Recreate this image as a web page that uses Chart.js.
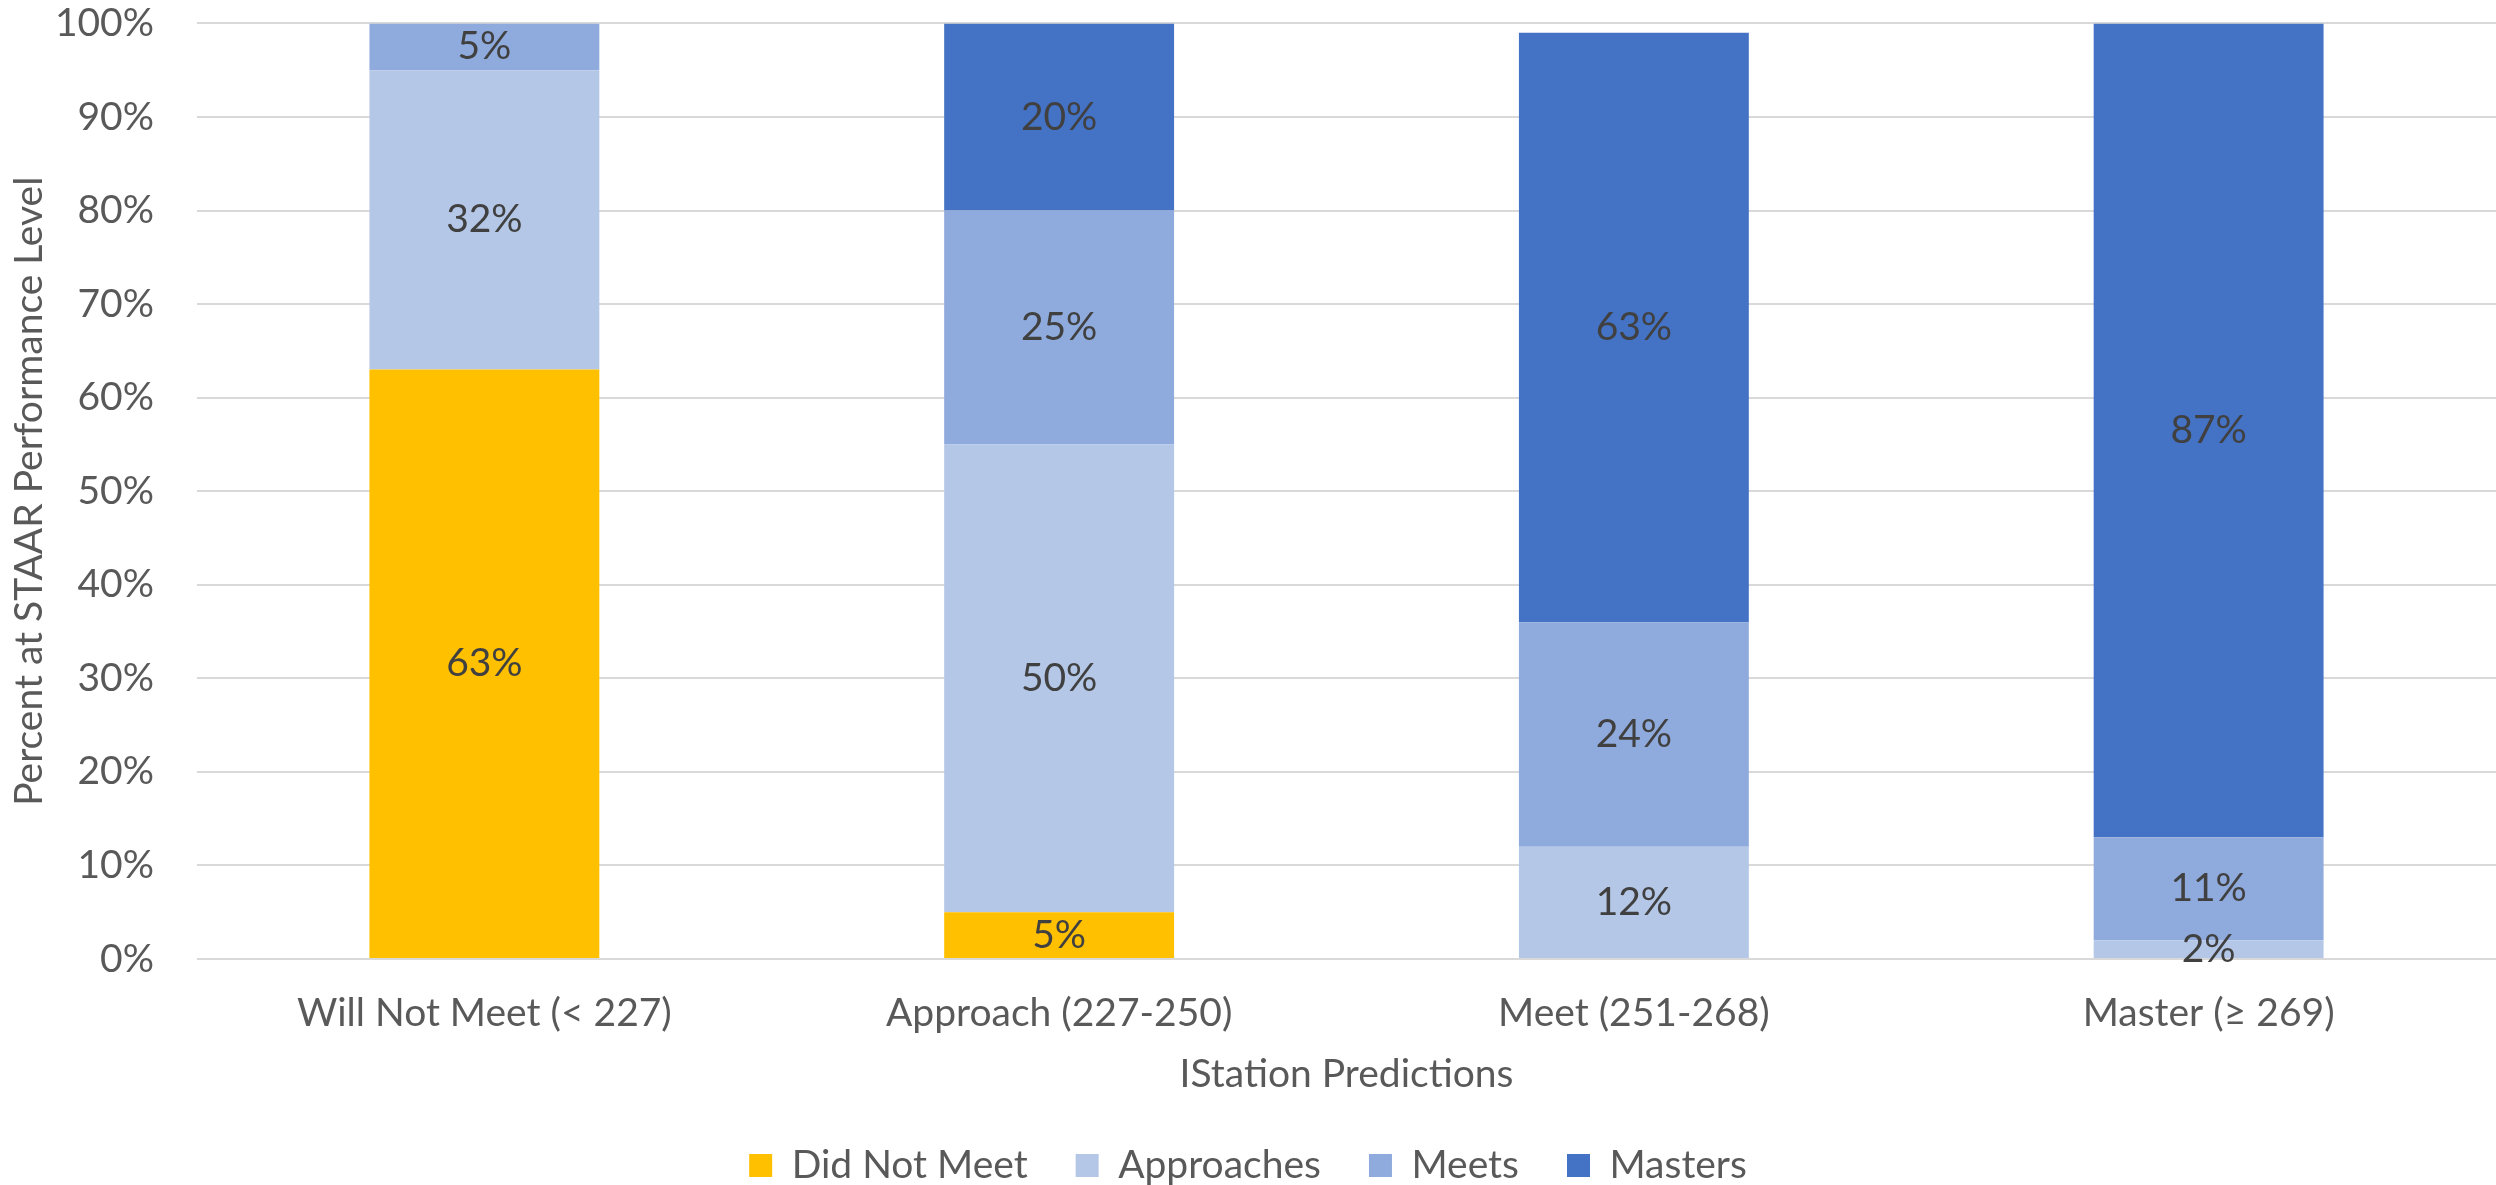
<!DOCTYPE html>
<html>
<head>
<meta charset="utf-8">
<script src="https://cdn.jsdelivr.net/npm/chart.js@4.4.0/dist/chart.umd.min.js"></script>
<style>
  html, body { margin: 0; padding: 0; background: #fff; }
  #wrap { width: 2496px; height: 1185px; }
</style>
</head>
<body>
<div id="wrap"><canvas id="staarChart" width="2496" height="1185"></canvas></div>
<script>
// iStation prediction band vs. actual STAAR result (percent of students)
const categories = ['Will Not Meet (< 227)', 'Approach (227-250)', 'Meet (251-268)', 'Master (\u2265 269)'];
const didNotMeet = [63, 5, 0, 0];
const approaches = [32, 50, 12, 2];
const meets = [5, 25, 24, 11];
const masters = [0, 20, 63, 87];

const FONT = 'Lato';
const SIZE = 39;
const TEXT = '#595959';

// writes the percentage in the middle of every non-empty segment
const barLabels = {
    id: 'barLabels',
    afterDatasetsDraw(chart) {
        const ctx = chart.ctx;
        ctx.save();
        ctx.font = `${SIZE}px ${FONT}`;
        ctx.fillStyle = '#404040';
        ctx.textAlign = 'center';
        ctx.textBaseline = 'middle';
        chart.data.datasets.forEach((ds, i) => {
            const meta = chart.getDatasetMeta(i);
            meta.data.forEach((bar, j) => {
                const v = ds.data[j];
                if (!v) return;
                ctx.fillText(v + '%', bar.x, (bar.y + bar.base) / 2);
            });
        });
        ctx.restore();
    }
};

const ctx = document.getElementById('staarChart');
new Chart(ctx, {
    type: 'bar',
    data: {
        labels: categories,
        datasets: [
            { label: 'Did Not Meet', data: didNotMeet, backgroundColor: '#FFC000' },
            { label: 'Approaches', data: approaches, backgroundColor: '#B4C7E7' },
            { label: 'Meets', data: meets, backgroundColor: '#8FAADC' },
            { label: 'Masters', data: masters, backgroundColor: '#4472C4' }
        ]
    },
    options: {
        responsive: false,
        animation: false,
        devicePixelRatio: 1,
        layout: { padding: { top: 0, right: 0, bottom: -10, left: 0 } },
        datasets: {
            bar: { barPercentage: 0.4, categoryPercentage: 1, borderWidth: 0 }
        },
        plugins: {
            legend: {
                position: 'bottom',
                labels: {
                    boxWidth: 23,
                    boxHeight: 23,
                    padding: 48,
                    color: TEXT,
                    font: { family: FONT, size: SIZE }
                }
            },
            tooltip: { enabled: false }
        },
        scales: {
            x: {
                stacked: true,
                grid: { display: false },
                border: { display: false },
                ticks: { color: TEXT, font: { family: FONT, size: SIZE }, padding: 23 },
                title: {
                    display: true,
                    text: 'IStation Predictions',
                    color: TEXT,
                    font: { family: FONT, size: SIZE },
                    padding: { top: 0, bottom: 0 }
                },
                afterFit(scale) { scale.height = 139; }
            },
            y: {
                stacked: true,
                min: 0,
                max: 100,
                // invisible tick marks keep the labels clear of the plot
                grid: { color: '#D9D9D9', lineWidth: 2, drawTicks: true, tickLength: 43, tickColor: 'rgba(0,0,0,0)' },
                border: { display: false },
                ticks: {
                    stepSize: 10,
                    color: TEXT,
                    font: { family: FONT, size: SIZE },
                    padding: 0,
                    callback: v => v + '%'
                },
                title: {
                    display: true,
                    text: 'Percent at STAAR Performance Level',
                    color: TEXT,
                    font: { family: FONT, size: SIZE },
                    padding: { top: 6, bottom: 0 }
                },
                afterFit(scale) { scale.width = 197; }
            }
        }
    },
    plugins: [barLabels]
});
</script>
</body>
</html>
